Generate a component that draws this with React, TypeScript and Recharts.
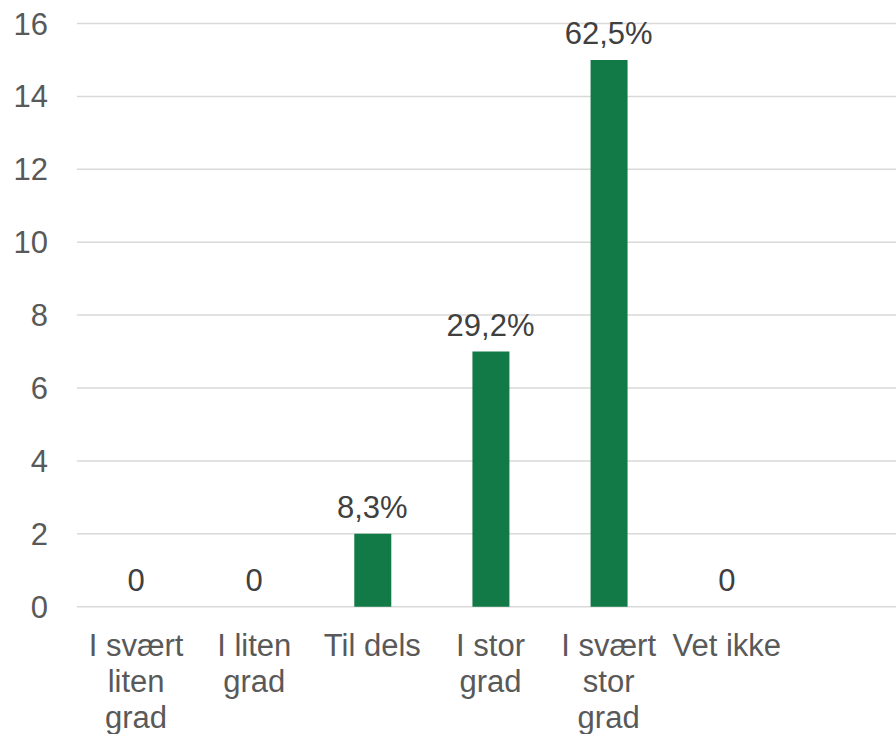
import { ComposedChart, Bar, Line, XAxis, YAxis, CartesianGrid, LabelList } from "recharts";

// categories (last slot is empty in the original)
const categories = ["I svært liten grad", "I liten grad", "Til dels", "I stor grad", "I svært stor grad", "Vet ikke", ""];
const counts = [0, 0, 2, 7, 15, 0, null];
const valueLabels = ["0", "0", "8,3%", "29,2%", "62,5%", "0", ""];
const yTicks = [0, 2, 4, 6, 8, 10, 12, 14, 16];

const FONT = "'Liberation Sans', Arial, sans-serif";
const FONT_SIZE = 31;
const BAND = 118;

const chartData = categories.map((name, i) => ({
    name,
    count: counts[i],
    label: valueLabels[i],
}));

let ctx: CanvasRenderingContext2D | null = null;
const measure = (s: string) => {
    if (!ctx) {
        ctx = document.createElement("canvas").getContext("2d");
    }
    if (!ctx) return s.length * FONT_SIZE * 0.5;
    ctx.font = `${FONT_SIZE}px ${FONT}`;
    return ctx.measureText(s).width;
};

// word wrap like the original axis labels
const wrapWords = (text: string, maxWidth: number) => {
    const words = text.split(" ");
    const lines: string[] = [];
    let current = "";
    words.forEach((w) => {
        const next = current ? current + " " + w : w;
        if (current && measure(next) > maxWidth) {
            lines.push(current);
            current = w;
        } else {
            current = next;
        }
    });
    if (current) lines.push(current);
    return lines;
};

const CategoryTick = (props: any) => {
    const { x, y, payload } = props;
    const lines = wrapWords(payload.value, BAND - 2);
    return (
        <text x={x} y={y} textAnchor="middle" fill="#595959" fontSize={FONT_SIZE} fontFamily={FONT}>
            {lines.map((line, i) => (
                <tspan key={i} x={x} dy={i === 0 ? 22 : 36}>
                    {line}
                </tspan>
            ))}
        </text>
    );
};

const App = () => {
    return (
        <div style={{ position: "absolute", left: 0, top: 0, width: 896, height: 734, overflow: "hidden", background: "#fff" }}>
            <ComposedChart
                width={912}
                height={734}
                data={chartData}
                margin={{ top: 23.5, right: 8, bottom: 0, left: 0 }}
            >
                <CartesianGrid horizontal vertical={false} stroke="#D9D9D9" strokeWidth={1.5} />
                <XAxis
                    dataKey="name"
                    interval={0}
                    height={127.3}
                    tickLine={false}
                    axisLine={false}
                    tickSize={0}
                    tickMargin={27}
                    tick={<CategoryTick />}
                />
                <YAxis
                    width={77}
                    domain={[0, 16]}
                    ticks={yTicks}
                    tickLine={false}
                    axisLine={false}
                    tickSize={0}
                    tickMargin={29}
                    tick={{ fill: "#595959", fontSize: FONT_SIZE, fontFamily: FONT }}
                />
                <Bar dataKey="count" fill="#127A46" barSize={37} isAnimationActive={false} />
                {/* invisible series that carries the value labels (also for the zero bars) */}
                <Line
                    dataKey="count"
                    stroke="none"
                    dot={false}
                    activeDot={false}
                    legendType="none"
                    isAnimationActive={false}
                >
                    <LabelList
                        dataKey="label"
                        position="top"
                        offset={16}
                        fill="#404040"
                        fontSize={FONT_SIZE}
                        fontFamily={FONT}
                    />
                </Line>
            </ComposedChart>
        </div>
    );
};

export default App;
